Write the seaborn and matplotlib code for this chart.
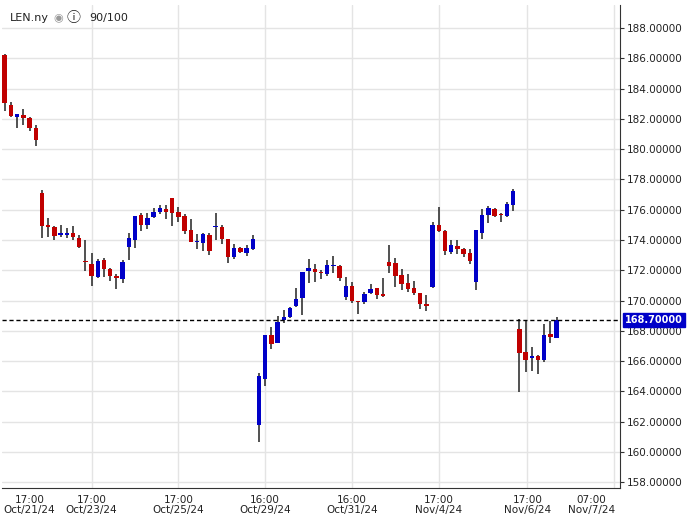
import matplotlib
matplotlib.use("Agg")
import matplotlib.pyplot as plt
import seaborn as sns
import numpy as np
import pandas as pd

opens = [186.22,182.91,182.12,182.25,182.05,181.39,177.09,174.92,174.85,174.36,
         174.36,174.45,174.12,172.58,172.40,171.56,172.67,172.07,171.55,171.43,
         173.55,174.01,175.64,175.00,175.51,175.84,176.04,176.76,175.84,175.57,
         174.65,173.88,173.81,174.32,174.86,174.85,174.05,172.88,173.46,173.15,
         173.41,161.76,164.82,167.71,167.20,168.68,168.90,169.63,170.17,171.94,
         172.07,171.82,171.74,172.29,172.27,170.22,170.95,169.90,169.89,170.48,
         170.82,170.42,172.53,172.47,171.67,171.15,170.82,170.48,169.70,170.88,
         174.98,174.58,173.19,173.59,173.39,173.13,171.21,174.45,175.64,176.04,
         175.67,175.57,176.30,168.11,166.58,166.22,166.32,166.06,167.77,167.51]
highs = [186.28,183.11,182.32,182.65,182.12,181.59,177.29,175.44,174.91,174.98,
         174.78,174.91,174.32,173.99,173.15,172.73,172.80,172.14,171.74,172.67,
         174.45,175.57,175.77,175.77,176.10,176.30,176.30,176.76,176.17,175.71,
         175.38,174.38,174.45,174.45,175.77,174.98,174.05,173.72,173.53,173.66,
         174.32,165.19,167.71,168.24,168.96,169.36,169.56,170.82,171.87,172.73,
         172.40,172.01,172.67,172.93,172.34,171.54,171.21,169.96,170.55,171.08,
         170.82,171.48,173.66,172.80,172.07,171.74,171.28,170.48,170.35,175.18,
         176.17,174.65,173.99,173.99,173.46,173.39,174.65,176.04,176.24,176.10,
         175.77,176.50,177.36,168.77,168.70,166.92,166.39,168.44,168.63,168.90]
lows = [182.53,182.14,181.41,181.59,181.21,180.22,174.14,174.21,174.01,174.21,
        174.14,174.01,173.48,171.96,170.97,171.50,171.56,171.30,170.77,171.17,
        172.69,173.48,174.60,174.73,175.44,175.73,175.40,174.93,175.18,174.40,
        173.86,173.41,173.28,173.02,173.99,173.74,172.49,172.75,173.15,172.95,
        173.35,160.66,164.36,166.80,167.20,168.52,168.83,169.56,169.05,171.15,
        171.21,171.41,171.61,171.81,171.28,170.02,169.82,169.10,169.76,170.42,
        170.09,170.22,171.81,170.88,170.68,170.55,170.35,169.43,169.30,170.82,
        174.52,173.00,173.06,173.06,172.86,172.40,170.68,174.05,175.11,175.51,
        175.18,175.51,175.90,163.94,165.26,165.33,165.13,165.92,167.18,167.51]
closes = [183.06,182.18,182.32,182.05,181.39,180.62,174.93,174.89,174.27,174.38,
          174.38,174.21,173.55,172.55,171.63,172.60,172.09,171.63,171.52,172.55,
          174.12,175.57,175.00,175.44,175.84,176.10,175.84,175.77,175.51,174.60,
          173.90,173.90,174.38,173.28,174.89,174.07,172.88,173.46,173.21,173.46,
          174.05,164.99,167.71,167.13,168.57,168.90,169.49,170.09,171.87,172.14,
          171.87,171.79,172.34,172.32,171.48,170.95,169.96,169.87,170.42,170.75,
          170.35,170.29,172.27,171.61,171.08,170.75,170.48,169.76,169.67,174.98,
          174.58,173.26,173.66,173.39,173.06,172.60,174.65,175.64,176.10,175.57,
          175.64,176.37,177.23,166.52,166.06,166.26,166.06,167.71,167.58,168.70]
last_price = 168.70
tick_pos = [4, 14, 28, 42, 56, 70, 84.3, 94.6]
tick_labels = ["17:00\nOct/21/24", "17:00\nOct/23/24", "17:00\nOct/25/24", "16:00\nOct/29/24",
               "16:00\nOct/31/24", "17:00\nNov/4/24", "17:00\nNov/6/24", "07:00\nNov/7/24"]
grid_pos = [14, 28, 42, 56, 70, 84.3, 98.3]
y_ticks = list(range(158, 189, 2))

sns.set_style("white")
plt.rcParams['font.family'] = ['DejaVu Sans', 'Noto Sans CJK SC']

df = pd.DataFrame({"o": opens, "h": highs, "l": lows, "c": closes})
df["i"] = np.arange(len(df))
df["up"] = df["c"] >= df["o"]

fig = plt.figure(figsize=(6.88, 5.16), dpi=100)
ax = fig.add_axes([0.003, 0.054, 0.898, 0.936])

for g in grid_pos:
    ax.axvline(g, color="#e4e4e4", lw=1, zorder=0)
for t in y_ticks:
    ax.axhline(t, color="#e4e4e4", lw=1, zorder=0)

ax.vlines(df["i"], df["l"], df["h"], color="#333333", lw=1.2, zorder=2)
colors = np.where(df["up"], "#0000c8", "#c00000")
bottoms = np.minimum(df["o"], df["c"])
heights = np.maximum(np.abs(df["c"] - df["o"]), 0.08)
ax.bar(df["i"], heights, bottom=bottoms, width=0.72, color=colors, zorder=3, linewidth=0)

ax.axhline(last_price, color="black", ls=(0, (3, 2)), lw=1, zorder=4)

ax.set_xlim(-0.43, 99.2)
ax.set_ylim(157.6, 189.52)
ax.yaxis.tick_right()
ax.set_yticks(y_ticks)
ax.set_yticklabels([f"{t:.5f}" for t in y_ticks], fontsize=7.5, color="#222222")
ax.set_xticks(tick_pos)
ax.set_xticklabels(tick_labels, fontsize=7.5, color="#222222", linespacing=0.95)
ax.tick_params(axis="both", length=3, color="#333333", direction="out", pad=2)
for s in ["top", "left"]:
    ax.spines[s].set_visible(False)
ax.spines["right"].set_color("#333333")
ax.spines["bottom"].set_color("#333333")

ax.text(1.008, (last_price - 157.6) / (189.52 - 157.6), f"{last_price:.5f}",
        transform=ax.transAxes, fontsize=7, color="white", fontweight="bold",
        va="center", ha="left",
        bbox=dict(boxstyle="square,pad=0.2", fc="#0000c8", ec="#0000c8"))

fig.text(0.015, 0.965, "LEN.ny", fontsize=8, color="#222222", va="center")
fig.text(0.078, 0.965, "◉", fontsize=8, color="#999999", va="center")
fig.text(0.097, 0.965, "ⓘ", fontsize=10, color="#222222", va="center",
         family=['Noto Sans CJK SC', 'DejaVu Sans'])
fig.text(0.13, 0.965, "90/100", fontsize=8, color="#222222", va="center")

fig.savefig("out.png", dpi=100)
